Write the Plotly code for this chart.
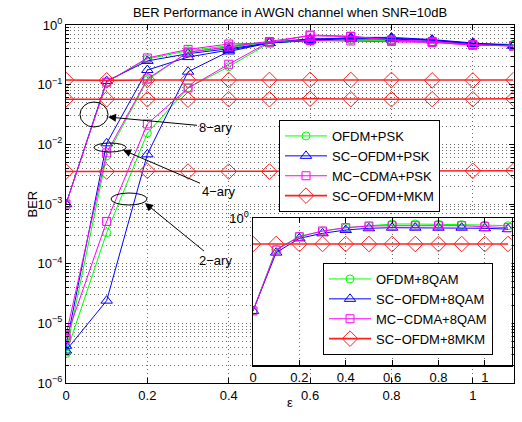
import plotly.graph_objects as go

W, H = 522, 422
FONT = "Liberation Sans, Arial, Helvetica, sans-serif"

eps = [0, 0.1, 0.2, 0.3, 0.4, 0.5, 0.6, 0.7, 0.8, 0.9, 1.0, 1.1]

# main panel: PSK schemes, 2-ary / 4-ary / 8-ary
ofdm_psk_2 = [3.1e-6, 3.3e-4, 0.0154, 0.088, 0.20, 0.50, 0.55, 0.56, 0.54, 0.52, 0.49, 0.47]
ofdm_psk_4 = [3.3e-6, 0.0064, 0.12, 0.35, 0.42, 0.52, 0.57, 0.56, 0.54, 0.52, 0.49, 0.47]
ofdm_psk_8 = [1.0e-3, 0.11, 0.27, 0.37, 0.45, 0.52, 0.58, 0.57, 0.55, 0.52, 0.48, 0.47]

scofdm_psk_2 = [3.5e-6, 2.4e-5, 0.0068, 0.165, 0.36, 0.50, 0.55, 0.60, 0.60, 0.56, 0.49, 0.46]
scofdm_psk_4 = [4.2e-6, 0.0104, 0.176, 0.29, 0.38, 0.50, 0.56, 0.62, 0.62, 0.57, 0.50, 0.45]
scofdm_psk_8 = [1.0e-3, 0.115, 0.25, 0.33, 0.40, 0.50, 0.59, 0.58, 0.58, 0.55, 0.48, 0.45]

mccdma_psk_2 = [5.6e-6, 5.1e-4, 0.022, 0.088, 0.22, 0.52, 0.55, 0.54, 0.53, 0.51, 0.46, 0.45]
mccdma_psk_4 = [6.3e-6, 0.0072, 0.125, 0.35, 0.43, 0.53, 0.66, 0.64, 0.56, 0.53, 0.47, 0.44]
mccdma_psk_8 = [1.0e-3, 0.11, 0.28, 0.39, 0.48, 0.50, 0.68, 0.65, 0.56, 0.52, 0.46, 0.45]

scofdm_mkm_2 = [0.0035, 0.0035, 0.0036, 0.0035, 0.0035, 0.0035, 0.0035, 0.0035, 0.0035, 0.0035, 0.0036, 0.0036]
scofdm_mkm_4 = [0.057, 0.057, 0.057, 0.056, 0.057, 0.057, 0.058, 0.057, 0.057, 0.057, 0.057, 0.058]
scofdm_mkm_8 = [0.12, 0.118, 0.12, 0.12, 0.12, 0.12, 0.12, 0.12, 0.12, 0.118, 0.118, 0.12]

# inset: 8QAM / 8MKM
ofdm_8qam = [4.8e-4, 0.075, 0.22, 0.34, 0.45, 0.52, 0.61, 0.61, 0.60, 0.58, 0.56, 0.53]
scofdm_8qam = [4.8e-4, 0.058, 0.188, 0.284, 0.373, 0.43, 0.45, 0.45, 0.45, 0.45, 0.43, 0.40]
mccdma_8qam = [4.8e-4, 0.072, 0.215, 0.343, 0.45, 0.518, 0.53, 0.53, 0.53, 0.53, 0.49, 0.45]
scofdm_8mkm = [0.118, 0.118, 0.118, 0.118, 0.118, 0.118, 0.118, 0.118, 0.118, 0.118, 0.118, 0.118]

main_names = ["OFDM+PSK", "SC\u2212OFDM+PSK", "MC\u2212CDMA+PSK", "SC\u2212OFDM+MKM"]
inset_names = ["OFDM+8QAM", "SC\u2212OFDM+8QAM", "MC\u2212CDMA+8QAM", "SC\u2212OFDM+8MKM"]
x_ticks = [0, 0.2, 0.4, 0.6, 0.8, 1]
x_ticktext = ["0", "0.2", "0.4", "0.6", "0.8", "1"]
y_ticks = [1e-6, 1e-5, 1e-4, 1e-3, 1e-2, 1e-1, 1]
y_ticktext = ["10<sup>\u22126</sup>", "10<sup>\u22125</sup>", "10<sup>\u22124</sup>",
              "10<sup>\u22123</sup>", "10<sup>\u22122</sup>", "10<sup>\u22121</sup>", "10<sup>0</sup>"]

styles = [
    dict(color="#00ff00", symbol="circle-open", size=8, width=1),
    dict(color="#0000ff", symbol="triangle-up-open", size=10, width=1),
    dict(color="#ff00ff", symbol="square-open", size=8, width=1),
    dict(color="#ff2020", symbol="diamond-open", size=12, width=1.6),
]

def px(x):
    return x / W

def py(y):
    return 1 - y / H

fig = go.Figure()

main_groups = [
    [ofdm_psk_2, ofdm_psk_4, ofdm_psk_8],
    [scofdm_psk_2, scofdm_psk_4, scofdm_psk_8],
    [mccdma_psk_2, mccdma_psk_4, mccdma_psk_8],
    [scofdm_mkm_2, scofdm_mkm_4, scofdm_mkm_8],
]
for gi, group in enumerate(main_groups):
    st = styles[gi]
    for k, vals in enumerate(group):
        fig.add_trace(go.Scatter(
            x=eps, y=vals, mode="lines+markers", name=main_names[gi],
            showlegend=(k == 2), legend="legend",
            line=dict(color=st["color"], width=st["width"]),
            marker=dict(symbol=st["symbol"], size=st["size"], color=st["color"],
                        line=dict(width=1, color=st["color"])),
            xaxis="x", yaxis="y"))

inset_groups = [ofdm_8qam, scofdm_8qam, mccdma_8qam, scofdm_8mkm]
for gi, vals in enumerate(inset_groups):
    st = styles[gi]
    fig.add_trace(go.Scatter(
        x=eps, y=vals, mode="lines+markers", name=inset_names[gi],
        legend="legend2",
        line=dict(color=st["color"], width=st["width"]),
        marker=dict(symbol=st["symbol"], size=st["size"], color=st["color"],
                    line=dict(width=1, color=st["color"])),
        xaxis="x2", yaxis="y2"))

minor_vals = [m * 10 ** e for e in range(-6, 0) for m in range(2, 10)]
grid_col = "rgba(60,60,60,0.75)"
tickfont = dict(family=FONT, size=13, color="black")

fig.update_layout(
    width=W, height=H, margin=dict(l=0, r=0, t=0, b=0, autoexpand=False),
    paper_bgcolor="white", plot_bgcolor="white", hovermode=False,
    font=dict(family=FONT, size=13, color="black"),
    title=dict(text="BER Performance in AWGN channel when SNR=10dB",
               x=px(290), y=py(12), xanchor="center", yanchor="middle",
               font=dict(family=FONT, size=13, color="black")),
    xaxis=dict(domain=[px(66), px(513.5)], range=[0, 1.1], anchor="y", automargin=False,
               tickmode="array", tickvals=x_ticks, ticktext=x_ticktext,
               ticks="inside", ticklen=5, tickcolor="black",
               showline=True, linecolor="black", linewidth=1, mirror="ticks",
               showgrid=True, gridcolor=grid_col, griddash="1px,3px", gridwidth=1,
               zeroline=False, tickfont=tickfont),
    yaxis=dict(domain=[py(383), py(25)], type="log", range=[-6, 0], anchor="x", automargin=False,
               tickmode="array", tickvals=y_ticks, ticktext=y_ticktext,
               ticks="inside", ticklen=5, tickcolor="black",
               showline=True, linecolor="black", linewidth=1, mirror="ticks",
               showgrid=True, gridcolor=grid_col, griddash="1px,3px", gridwidth=1,
               minor=dict(tickmode="array", tickvals=minor_vals, ticks="inside",
                          ticklen=3, tickcolor="black", showgrid=True,
                          gridcolor=grid_col, griddash="1px,3px", gridwidth=1),
               zeroline=False, tickfont=tickfont),
    xaxis2=dict(domain=[px(253), px(511.5)], range=[0, 1.115], anchor="y2", automargin=False,
                tickmode="array", tickvals=x_ticks, ticktext=x_ticktext,
                ticks="inside", ticklen=5, tickcolor="black",
                showline=True, linecolor="black", linewidth=1.5, mirror="ticks",
                showgrid=True, gridcolor=grid_col, griddash="1px,3px", gridwidth=1,
                zeroline=False, tickfont=tickfont),
    yaxis2=dict(domain=[py(365), py(218)], type="log", range=[-5.25, 0], anchor="x2", automargin=False,
                tickmode="array", tickvals=[1], ticktext=["10<sup>0</sup>"],
                ticks="inside", ticklen=5, tickcolor="black",
                showline=True, linecolor="black", linewidth=1.5, mirror="ticks",
                showgrid=False, zeroline=False, tickfont=tickfont),
    legend=dict(x=px(279), y=py(120), xanchor="left", yanchor="top",
                bgcolor="white", bordercolor="black", borderwidth=1,
                font=dict(family=FONT, size=13, color="black"), itemwidth=42),
    legend2=dict(x=px(323), y=py(263), xanchor="left", yanchor="top",
                 bgcolor="white", bordercolor="black", borderwidth=1,
                 font=dict(family=FONT, size=13, color="black"), itemwidth=42),
    showlegend=True,
)

# ellipses
ellipses = [(80, 102, 108, 127), (94, 143, 126, 152), (111, 193, 147, 205)]
for (x0, y0, x1, y1) in ellipses:
    fig.add_shape(type="circle", xref="paper", yref="paper",
                  x0=px(x0), x1=px(x1), y0=py(y1), y1=py(y0),
                  line=dict(color="black", width=1))

# arrows with labels: (text, head_x, head_y, text_x, text_y)
arrows = [("8\u2212ary", 108, 117, 215, 127),
          ("4\u2212ary", 123, 150, 218, 191),
          ("2\u2212ary", 145, 203, 215, 260)]
for (t, hx, hy, tx, ty) in arrows:
    fig.add_annotation(x=px(hx), y=py(hy), xref="paper", yref="paper",
                       text=t, showarrow=True, ax=tx - hx, ay=ty - hy,
                       arrowhead=2, arrowsize=1.6, arrowwidth=1, arrowcolor="black",
                       font=dict(family=FONT, size=13, color="black"))

# axis titles
fig.add_annotation(x=px(22), y=py(204), xref="paper", yref="paper", text="BER",
                   textangle=-90, showarrow=False,
                   font=dict(family=FONT, size=13, color="black"))
fig.add_annotation(x=px(290), y=py(412), xref="paper", yref="paper", text="\u03b5",
                   showarrow=False, font=dict(family=FONT, size=13, color="black"))

fig.write_html("out.html", config={"displayModeBar": False, "staticPlot": True},
               post_script="document.body.style.margin='0';")
